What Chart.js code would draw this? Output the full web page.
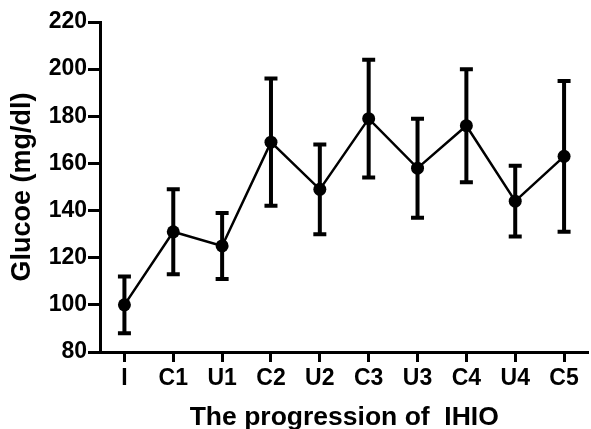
<!DOCTYPE html>
<html>
<head>
<meta charset="utf-8">
<script src="https://cdn.jsdelivr.net/npm/chart.js@4/dist/chart.umd.min.js"></script>
<style>
  html, body { margin: 0; padding: 0; background: #fff; overflow: hidden; }
  #wrap { width: 595px; height: 429px; position: relative; }
</style>
</head>
<body>
<div id="wrap"><canvas id="chart"></canvas></div>
<script>
// data
const stages = ['I', 'C1', 'U1', 'C2', 'U2', 'C3', 'U3', 'C4', 'U4', 'C5'];
const glucoseMean = [100, 131, 125, 169, 149, 179, 158, 176, 144, 163];
const glucoseUpper = [112, 149, 139, 196, 168, 204, 179, 200, 159, 195];
const glucoseLower = [88, 113, 111, 142, 130, 154, 137, 152, 129, 131];
const yTicks = [80, 100, 120, 140, 160, 180, 200, 220];

const FONT = 'Liberation Sans, Arial, Helvetica, sans-serif';

// error bars drawn through the chart scales
const errorBars = {
  id: 'errorBars',
  afterDatasetsDraw(chart) {
    const { ctx, scales: { x, y } } = chart;
    const cap = 6.5;
    ctx.save();
    ctx.strokeStyle = '#000';
    ctx.lineWidth = 4;
    ctx.lineCap = 'butt';
    stages.forEach((s, i) => {
      const px = x.getPixelForValue(i);
      const top = y.getPixelForValue(glucoseUpper[i]);
      const bot = y.getPixelForValue(glucoseLower[i]);
      ctx.beginPath();
      ctx.moveTo(px, top);
      ctx.lineTo(px, bot);
      ctx.moveTo(px - cap, top);
      ctx.lineTo(px + cap, top);
      ctx.moveTo(px - cap, bot);
      ctx.lineTo(px + cap, bot);
      ctx.stroke();
    });
    ctx.restore();
  }
};

new Chart(document.getElementById('chart').getContext('2d'), {
  type: 'line',
  data: {
    labels: stages,
    datasets: [{
      data: glucoseMean,
      borderColor: '#000',
      borderWidth: 2.5,
      backgroundColor: '#000',
      pointRadius: 6.5,
      pointBackgroundColor: '#000',
      pointBorderWidth: 0,
      tension: 0
    }]
  },
  options: {
    responsive: true,
    maintainAspectRatio: false,
    animation: false,
    devicePixelRatio: 1,
    layout: { padding: { top: 22, right: 0, left: 0, bottom: 0 } },
    plugins: { legend: { display: false }, tooltip: { enabled: false } },
    scales: {
      x: {
        offset: true,
        grid: { display: true, drawOnChartArea: false, drawTicks: true, tickLength: 10, tickWidth: 3, tickColor: '#000' },
        border: { display: true, color: '#000', width: 3 },
        ticks: { color: '#000', font: { family: FONT, size: 23, weight: 'bold' }, padding: 3, maxRotation: 0, autoSkip: false },
        title: {
          display: true,
          text: 'The progression of  IHIO',
          color: '#000',
          font: { family: FONT, size: 26.5, weight: 'bold', lineHeight: 1 },
          padding: { top: 0, bottom: -2 }
        },
        afterFit(scale) { scale.height = 77; }
      },
      y: {
        min: 80,
        max: 220,
        afterBuildTicks(scale) { scale.ticks = yTicks.map(v => ({ value: v })); },
        grid: { display: true, drawOnChartArea: false, drawTicks: true, tickLength: 12, tickWidth: 3, tickColor: '#000' },
        border: { display: true, color: '#000', width: 3 },
        ticks: { color: '#000', font: { family: FONT, size: 23, weight: 'bold' }, padding: 1 },
        title: {
          display: true,
          text: 'Glucoe (mg/dl)',
          color: '#000',
          font: { family: FONT, size: 27, weight: 'bold', lineHeight: 1.2 },
          padding: { top: 6, bottom: 0 }
        },
        afterFit(scale) { scale.width = 100; }
      }
    }
  },
  plugins: [errorBars]
});
</script>
</body>
</html>
